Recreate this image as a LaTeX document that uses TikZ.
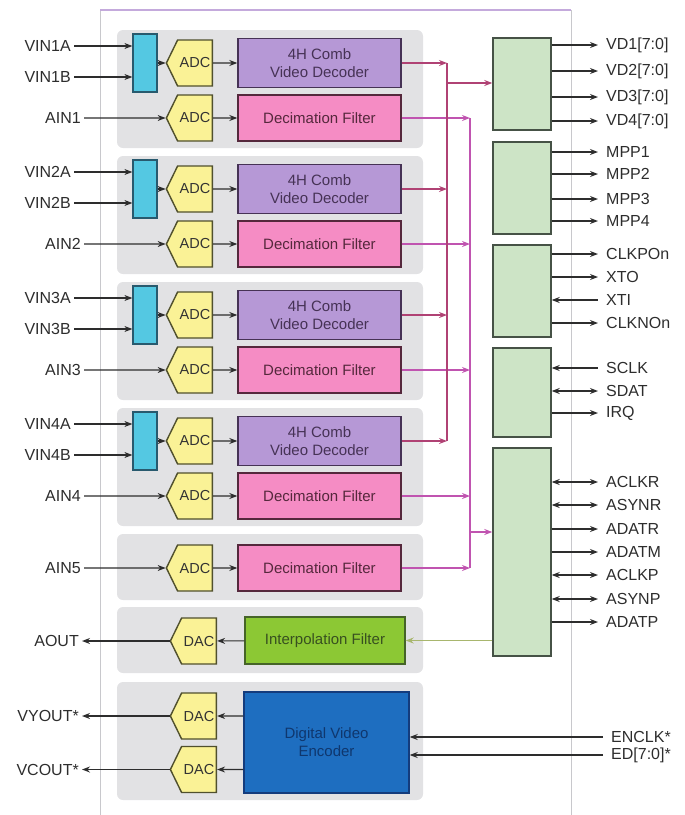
\documentclass[tikz,border=0pt]{standalone}
\usepackage{fontspec}
\setmainfont{Liberation Sans}
\usetikzlibrary{arrows.meta,positioning,shapes.symbols}
\definecolor{panelgray}{RGB}{226,226,228}
\definecolor{chipgray}{RGB}{200,200,204}
\definecolor{chiptop}{RGB}{196,170,220}
\definecolor{txtgray}{RGB}{45,45,45}
\definecolor{muxfill}{RGB}{84,200,226}
\definecolor{muxline}{RGB}{40,90,110}
\definecolor{adcfill}{RGB}{250,242,150}
\definecolor{adcline}{RGB}{80,80,45}
\definecolor{combfill}{RGB}{182,152,214}
\definecolor{combline}{RGB}{70,50,85}
\definecolor{decfill}{RGB}{245,140,196}
\definecolor{decline}{RGB}{85,40,60}
\definecolor{intfill}{RGB}{140,200,52}
\definecolor{intline}{RGB}{70,100,40}
\definecolor{encfill}{RGB}{30,110,192}
\definecolor{encline}{RGB}{20,60,125}
\definecolor{enctext}{RGB}{15,55,110}
\definecolor{blkfill}{RGB}{205,228,198}
\definecolor{blkline}{RGB}{70,82,70}
\definecolor{combbus}{RGB}{176,66,116}
\definecolor{decbus}{RGB}{192,84,176}
\definecolor{intbus}{RGB}{168,182,110}
\begin{document}
\begin{tikzpicture}[x=1pt,y=-1pt,>={Stealth[length=8pt,width=6pt]},
    panel/.style={fill=panelgray,rounded corners=6pt},
    lbl/.style={font=\fontsize{16}{18}\selectfont,text=txtgray,inner ysep=0pt},
    llbl/.style={lbl,anchor=east,inner xsep=3pt},
    rlbl/.style={lbl,anchor=west,inner xsep=8pt},
    muxbox/.style={rectangle,draw=muxline,fill=muxfill,line width=1.2pt,minimum width=24pt,minimum height=58pt,inner sep=0pt},
    conv/.style={signal,signal to=west,signal pointer angle=128,draw=adcline,fill=adcfill,line width=1.4pt,minimum width=46pt,minimum height=46pt,inner sep=0pt,font=\fontsize{14.5}{16}\selectfont,text=black!80},
    combbox/.style={rectangle,draw=combline,fill=combfill,line width=1.4pt,minimum width=163pt,minimum height=49pt,align=center,font=\fontsize{15}{18}\selectfont,text=combline},
    decbox/.style={rectangle,draw=decline,fill=decfill,line width=1.4pt,minimum width=163pt,minimum height=46pt,font=\fontsize{15}{18}\selectfont,text=decline},
    intbox/.style={rectangle,draw=intline,fill=intfill,line width=1.4pt,minimum width=160pt,minimum height=47pt,font=\fontsize{15}{18}\selectfont,text=intline!80!black},
    encbox/.style={rectangle,draw=encline,fill=encfill,line width=1.4pt,minimum width=165pt,minimum height=101pt,align=center,font=\fontsize{15}{18}\selectfont,text=enctext},
    blk/.style={rectangle,draw=blkline,fill=blkfill,line width=1.4pt,minimum width=58pt},
    wire/.style={draw=txtgray,line width=1.1pt},
    wireb/.style={wire,line width=2pt},
    pout/.style={wire,->},
    poutb/.style={wireb,-{Stealth[open,length=8pt,width=6pt]}},
    pinw/.style={wire,<-},
    pbi/.style={wire,<->},
    pbib/.style={wireb,{Stealth[open,length=8pt,width=6pt]}-{Stealth[open,length=8pt,width=6pt]}},
    cwire/.style={draw=combbus,line width=1.2pt},
    dwire/.style={draw=decbus,line width=1.2pt}]
  \useasboundingbox (0,0) rectangle (685,815);
  % chip outline
  \draw[chipgray,line width=1pt] (100,815) -- (100,10);
  \draw[chipgray,line width=1pt] (571,10) -- (571,815);
  \draw[chiptop,line width=1.2pt] (100,10) -- (571,10);
  \coordinate (cbusx) at (447,0);
  \coordinate (dbusx) at (470,0);
  % four video / audio input groups
  \foreach \k/\yy in {1/30,2/156,3/282,4/408}{
    \fill[panel] (117,\yy) rectangle (423,\yy+118);
    \node[muxbox] (mux\k) at (145,\yy+33) {};
    \node[conv] (adcv\k) at (195,\yy+33) {ADC};
    \node[conv] (adca\k) at (195,\yy+88) {ADC};
    \node[combbox] (comb\k) at (319.5,\yy+33) {4H Comb\\Video Decoder};
    \node[decbox] (dec\k) at (319.5,\yy+88) {Decimation Filter};
    \node[llbl] (vina\k) at (74,\yy+16) {VIN\k A};
    \node[llbl] (vinb\k) at (74,\yy+47) {VIN\k B};
    \node[llbl] (ain\k) at (84,\yy+88) {AIN\k};
    \path[pout] (vina\k) -- (vina\k -| mux\k.west); \path[pout] (vinb\k) -- (vinb\k -| mux\k.west);
    \path[pout] (mux\k) -- (adcv\k); \path[pout] (adcv\k) -- (comb\k);
    \path[pout] (ain\k) -- (adca\k); \path[pout] (adca\k) -- (dec\k);
    \path[cwire,->] (comb\k) -- (comb\k -| cbusx);
    \path[dwire,->] (dec\k) -- (dec\k -| dbusx);
  }
  % AIN5
  \fill[panel] (117,534) rectangle (423,600);
  \node[conv] (adca5) at (195,568) {ADC};
  \node[decbox] (dec5) at (319.5,568) {Decimation Filter};
  \node[llbl] (ain5) at (84,568) {AIN5};
  \path[pout] (ain5) -- (adca5); \path[pout] (adca5) -- (dec5);
  \path[dwire,->] (dec5) -- (dec5 -| dbusx);
  % audio out
  \fill[panel] (117,607) rectangle (423,673);
  \node[conv] (daca) at (199,641) {DAC};
  \node[intbox] (interp) at (325,640.5) {Interpolation Filter};
  \node[llbl] (aout) at (82,641) {AOUT};
  \path[pout] (interp) -- (daca); \path[wireb,-{Stealth[open,length=8pt,width=6pt]}] (daca) -- (aout);
  % encoder
  \fill[panel] (117,682) rectangle (423,800);
  \node[encbox] (enc) at (326.5,742.5) {Digital Video\\Encoder};
  \node[conv] (dacy) at (199,716) {DAC};
  \node[conv] (dacc) at (199,769.5) {DAC};
  \node[llbl] (vyout) at (82,716) {VYOUT*};
  \node[llbl] (vcout) at (82,769.5) {VCOUT*};
  \node[rlbl] (enclk) at (603,737) {ENCLK*};
  \node[rlbl] (edin) at (603,755) {ED[7:0]*};
  \path[pout] (enc.west |- dacy) -- (dacy); \path[pout] (enc.west |- dacc) -- (dacc);
  \path[wireb,-{Stealth[open,length=8pt,width=6pt]}] (dacy) -- (vyout);
  \path[wire,-{Stealth[open,length=8pt,width=6pt]}] (dacc) -- (vcout);
  \path[pout] (enclk) -- (enclk -| enc.east); \path[pout] (edin) -- (edin -| enc.east);
  % output blocks
  \node[blk,minimum height=92pt] (b1) at (522,84) {};
  \node[blk,minimum height=92pt] (b2) at (522,188) {};
  \node[blk,minimum height=92pt] (b3) at (522,291) {};
  \node[blk,minimum height=89pt] (b4) at (522,392.5) {};
  \node[blk,minimum height=208pt] (b5) at (522,552) {};
  % buses
  \path[cwire] (comb1 -| cbusx) -- (comb4 -| cbusx);
  \coordinate (ctap) at (447,83);
  \path[cwire,line width=1.5pt,->] (ctap) -- (ctap -| b1.west);
  \path[dwire] (dec1 -| dbusx) -- (dec5 -| dbusx);
  \coordinate (dtap) at (470,532);
  \path[dwire,line width=1.5pt,->] (dtap) -- (dtap -| b5.west);
  \path[draw=intbus,line width=1.1pt,->] (interp -| b5.west) -- (interp);
  % pins
  \foreach \nm/\tx/\yy/\st/\bk in {vd1/{VD1[7:0]}/45/pout/1, vd2/{VD2[7:0]}/71/pout/1, vd3/{VD3[7:0]}/97/poutb/1, vd4/{VD4[7:0]}/121/poutb/1,
      mpp1/MPP1/152/poutb/2, mpp2/MPP2/174/pout/2, mpp3/MPP3/199/poutb/2, mpp4/MPP4/221/poutb/2,
      clkpo/CLKPOn/254/poutb/3, xto/XTO/277/pout/3, xti/XTI/300/pinw/3, clkno/CLKNOn/323/pout/3,
      sclk/SCLK/368/pinw/4, sdat/SDAT/391/pbib/4, irq/IRQ/413/poutb/4,
      aclkr/ACLKR/482/pbi/5, asynr/ASYNR/505/pbi/5, adatr/ADATR/529/pout/5, adatm/ADATM/552/poutb/5,
      aclkp/ACLKP/575/pbi/5, asynp/ASYNP/599/pbi/5, adatp/ADATP/622/pout/5}{
    \node[rlbl] (\nm) at (598,\yy) {\tx};
    \path[\st] (\nm.west -| b\bk.east) -- (\nm.west);
  }
\end{tikzpicture}
\end{document}
